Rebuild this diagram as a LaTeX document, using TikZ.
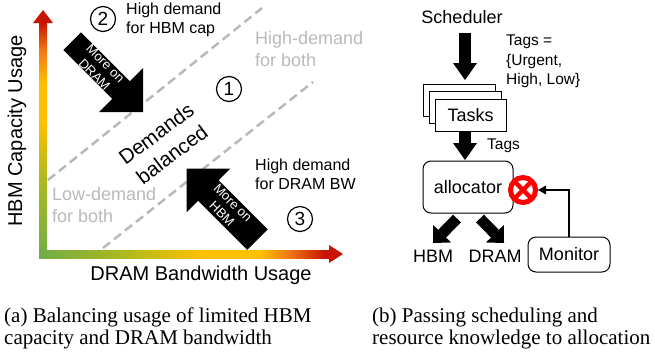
\documentclass[tikz,border=0pt]{standalone}
\usepackage{fontspec}
\setmainfont{Liberation Sans}
\newfontfamily\capfont{Liberation Serif}
\usetikzlibrary{arrows.meta}
\definecolor{axg}{RGB}{112,173,71}
\definecolor{axol}{RGB}{175,185,30}
\definecolor{axy}{RGB}{255,192,0}
\definecolor{axo}{RGB}{240,120,20}
\definecolor{axr}{RGB}{200,20,0}
\definecolor{lgray}{RGB}{185,185,185}
\definecolor{xred}{RGB}{255,0,0}
\pgfdeclareverticalshading{vaxis}{100bp}{color(0bp)=(axg); color(25bp)=(axg); color(42bp)=(axol); color(54bp)=(axy); color(62bp)=(axy); color(69bp)=(axo); color(75bp)=(axr); color(100bp)=(axr)}
\pgfdeclarehorizontalshading{haxis}{100bp}{color(0bp)=(axg); color(25bp)=(axg); color(40bp)=(axol); color(53bp)=(axy); color(63bp)=(axy); color(68bp)=(axo); color(74bp)=(axr); color(100bp)=(axr)}
\begin{document}
\begin{tikzpicture}[x=1pt,y=-1pt,
  lbl/.style={inner sep=0pt, align=left},
  numc/.style={circle, draw, line width=1.2pt, minimum size=25pt, inner sep=0pt, font=\fontsize{19}{19}\selectfont},
  dashline/.style={lgray, line width=2.5pt, dash pattern=on 9pt off 5pt},
  graytxt/.style={lbl, text=lgray, font=\fontsize{18}{22}\selectfont},
  demtxt/.style={lbl, font=\fontsize{16}{19}\selectfont},
  axtxt/.style={inner sep=0pt, font=\fontsize{20}{20}\selectfont},
  arrtxt/.style={inner sep=0pt, align=center, text=white, rotate=-45, font=\fontsize{13}{15.5}\selectfont},
  box/.style={draw, line width=1pt, fill=white, inner sep=0pt},
  boxtxt/.style={inner sep=0pt, font=\fontsize{18}{20}\selectfont},
  tagtxt/.style={lbl, font=\fontsize{15.5}{19.5}\selectfont},
  fat/.style={line width=12pt, -{Triangle[width=24pt,length=17pt,line width=0pt]}},
  fattwo/.style={line width=11pt, -{Triangle[width=25pt,length=13pt,line width=0pt]}},
  thinarrow/.style={line width=2.2pt, -{Triangle[width=9pt,length=8pt,line width=0pt]}},
  capt/.style={lbl, anchor=north west, font={\capfont\fontsize{21}{22}\selectfont}}
]
\useasboundingbox (0,0) rectangle (655,351);

% ---------- (a) ----------
% dashed separators
\draw[dashline] (48,180) -- (262,8);
\draw[dashline] (103,248) -- (313,82);

% axes
\shade[shading=vaxis] (39,258) rectangle (47,22);
\fill[axr] (33,23) -- (43,10) -- (53,23) -- cycle;
\shade[shading=haxis] (39,250) rectangle (330,258);
\fill[axr] (329,245) -- (343,254) -- (329,263) -- cycle;

% axis labels
\node[axtxt, rotate=90] (ylab) at (17,131) {HBM Capacity Usage};
\node[axtxt] (xlab) at (201,275) {DRAM Bandwidth Usage};

% region labels
\node[numc] (n2) at (103,19) {2};
\node[demtxt, anchor=west] (hd2) at (126,20) {High demand\\for HBM cap};
\node[graytxt, anchor=west] (hb) at (255,49) {High-demand\\for both};
\node[numc] (n1) at (229,89) {1};
\node[inner sep=0pt, align=center, rotate=37, font=\fontsize{20.5}{26}\selectfont] (bal) at (164,144) {Demands\\balanced};
\node[graytxt, anchor=west] (lb) at (52,205) {Low-demand\\for both};
\node[demtxt, anchor=west] (hd3) at (255,174) {High demand\\for DRAM BW};
\node[numc] (n3) at (300,219) {3};

% block arrow 1 (towards DRAM)
\fill[black] (63.4,50.0) -- (112.3,98.9) -- (99.2,112.0) -- (143,112) -- (143.0,68.2) -- (129.9,81.3) -- (81.0,32.4) -- cycle;
\node[arrtxt] (a1t) at (100,69) {More on\\DRAM};
% block arrow 2 (towards HBM)
\fill[black] (247.3,249.8) -- (198.2,200.7) -- (186.5,212.3) -- (186.5,168.5) -- (230.3,168.5) -- (218.7,180.2) -- (267.7,229.3) -- cycle;
\node[arrtxt] (a2t) at (227.5,208.5) {More on\\HBM};

% ---------- (b) ----------
\node[boxtxt] (sched) at (462,17) {Scheduler};
\node[tagtxt, anchor=west] (tags1) at (506,61.5) {Tags =\\\{Urgent,\\High, Low\}};

\node[box, minimum width=72pt, minimum height=32pt] (back) at (459,100) {};
\node[box, minimum width=72pt, minimum height=32pt] (mid) at (465,107) {};
\node[box, minimum width=71pt, minimum height=32pt, font=\fontsize{18}{20}\selectfont] (front) at (470.5,115) {Tasks};

\node[box, rounded corners=8pt, minimum width=90pt, minimum height=52pt, font=\fontsize{18}{20}\selectfont] (alloc) at (468,187) {\raisebox{-3pt}{allocator}};
\node[tagtxt, anchor=west] (tags2) at (487,146) {Tags};

\node[box, rounded corners=8pt, minimum width=82pt, minimum height=35pt, font=\fontsize{18}{20}\selectfont] (mon) at (569,254.5) {Monitor};

\node[boxtxt] (hbm) at (433,256) {HBM};
\node[boxtxt] (dram) at (495,256) {DRAM};

% red X
\node[circle, draw=xred, line width=5pt, fill=white, minimum size=25pt, inner sep=0pt] (xc) at (523,190) {};
\draw[xred, line width=4.5pt] ([shift={(-7.6,-7.6)}]xc.center) -- ([shift={(7.6,7.6)}]xc.center);
\draw[xred, line width=4.5pt] ([shift={(-7.6,7.6)}]xc.center) -- ([shift={(7.6,-7.6)}]xc.center);

% connectors
\draw[fat, shorten <=9.5pt, shorten >=3.5pt] (mid.north |- sched.south) -- (mid.north |- back.north);
\draw[fat, shorten >=0.5pt] (mid.north |- front.south) -- (mid.north |- alloc.north);
\coordinate (hbmtip) at (433,243);
\coordinate (dramtip) at (504,243);
\draw[fattwo] ([shift={(-11,5)}]alloc.south) -- (hbmtip);
\draw[fattwo] ([shift={(12,5)}]alloc.south) -- (dramtip);
\draw[thinarrow] (mon.north) |- (xc.east);

% captions
\node[capt] (capa) at (4,308) {(a) Balancing usage of limited HBM\\capacity and DRAM bandwidth};
\node[capt] (capb) at (372,308) {(b) Passing scheduling and\\resource knowledge to allocation};
\end{tikzpicture}
\end{document}
